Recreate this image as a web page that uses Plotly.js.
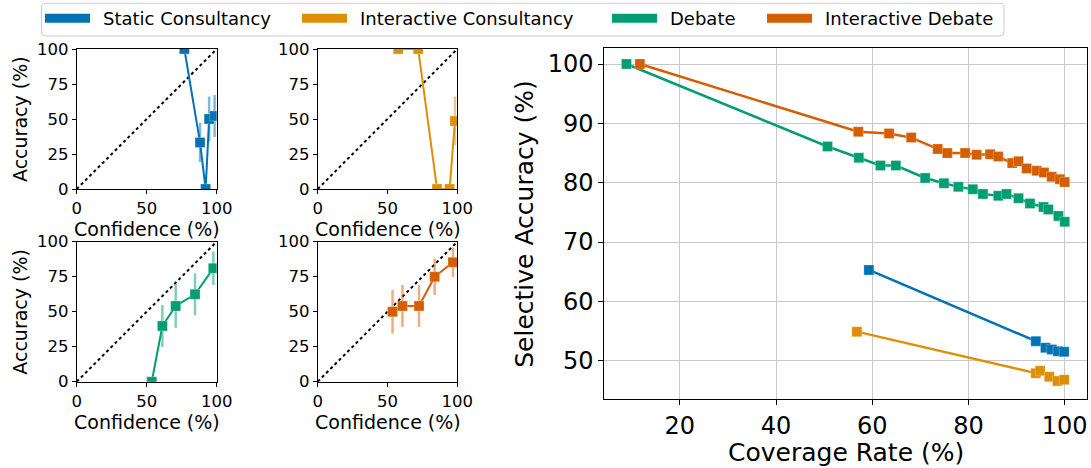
<!DOCTYPE html>
<html>
<head>
<meta charset="utf-8">
<script src="https://cdn.plot.ly/plotly-3.0.1.min.js"></script>
<style>html,body{margin:0;padding:0;background:#fff;}#chart{width:1091px;height:468px;}</style>
</head>
<body>
<div id="chart"></div>
<script>
// ---------- data ----------
const seriesNames = ["Static Consultancy", "Interactive Consultancy", "Debate", "Interactive Debate"];
const seriesColors = ["#0173b2", "#de8f05", "#029e73", "#d55e00"];
const seriesFaded = ["rgba(1,115,178,0.5)", "rgba(222,143,5,0.5)", "rgba(2,158,115,0.5)", "rgba(213,94,0,0.5)"];

// calibration panels: confidence (%), accuracy (%), error half-width
const staticConfidence = [76.9, 88.1, 92.1, 94.6, 98.5];
const staticAccuracy   = [100, 33.3, 0, 50, 52.2];
const staticError      = [0, 14, 0, 16, 15];

const interConsConfidence = [57.7, 72.0, 85.5, 94.5, 98.3];
const interConsAccuracy   = [100, 100, 0, 0, 48.5];
const interConsError      = [0, 0, 0, 0, 17.5];

const debateConfidence = [53.6, 61.2, 70.7, 84.5, 97.6];
const debateAccuracy   = [0, 39.8, 54.1, 62.4, 81.0];
const debateError      = [0, 15, 15.5, 15, 12];

const interDebConfidence = [53.6, 60.7, 72.6, 83.8, 96.9];
const interDebAccuracy   = [50.0, 54.1, 54.1, 75.0, 85.3];
const interDebError      = [15.5, 15, 15, 13, 10.6];

const diagonal = [0, 100];

// selective accuracy vs coverage
const staticCoverage = [59.3, 94.0, 96.0, 97.3, 98.6, 99.9];
const staticSelAcc   = [65.3, 53.3, 52.2, 51.9, 51.6, 51.5];

const interConsCoverage = [56.8, 94.0, 94.9, 96.8, 98.5, 99.9];
const interConsSelAcc   = [54.9, 47.9, 48.3, 47.3, 46.6, 46.8];

const debateCoverage = [8.9, 50.7, 57.2, 61.7, 64.9, 71.0, 74.9, 77.9, 80.9, 83.0, 86.2, 87.9, 90.4, 92.8, 95.6, 96.6, 98.7, 100];
const debateSelAcc   = [100, 86.1, 84.2, 82.9, 82.9, 80.8, 79.9, 79.3, 78.9, 78.1, 77.8, 78.1, 77.4, 76.5, 75.9, 75.5, 74.4, 73.4];

const interDebCoverage = [11.7, 57.1, 63.5, 68.1, 73.6, 75.6, 79.3, 81.7, 84.5, 86.2, 89.1, 90.4, 92.1, 94.2, 95.7, 97.3, 99.0, 100];
const interDebSelAcc   = [100, 88.6, 88.3, 87.6, 85.7, 85.0, 85.0, 84.7, 84.8, 84.4, 83.3, 83.6, 82.4, 82.0, 81.7, 81.0, 80.6, 80.1];

const smallXTicks = [0, 50, 100];
const smallYTicks = [0, 25, 50, 75, 100];
const bigXTicks = [20, 40, 60, 80, 100];
const bigYTicks = [50, 60, 70, 80, 90, 100];

const xTitleSmall = "Confidence (%)";
const yTitleSmall = "Accuracy (%)";
const xTitleBig = "Coverage Rate (%)";
const yTitleBig = "Selective Accuracy (%)";

// ---------- layout helpers ----------
const W = 1091, H = 468;
const FONT = "DejaVu Sans, sans-serif";
const px = v => v / W;
const py = v => 1 - v / H;

const calib = [
  [staticConfidence, staticAccuracy, staticError],
  [interConsConfidence, interConsAccuracy, interConsError],
  [debateConfidence, debateAccuracy, debateError],
  [interDebConfidence, interDebAccuracy, interDebError]
];
const bigData = [
  [staticCoverage, staticSelAcc],
  [interConsCoverage, interConsSelAcc],
  [debateCoverage, debateSelAcc],
  [interDebCoverage, interDebSelAcc]
];

// panel pixel boxes [left, right, top, bottom]
const panels = [
  [76.7, 216.7, 49, 189],
  [317.7, 457.3, 49, 189],
  [76.7, 216.7, 241.7, 381.7],
  [317.7, 457.3, 241.7, 381.7]
];
const bigBox = [604.3, 1087.3, 48.3, 399.3];

const traces = [];
const layout = {
  width: W, height: H,
  margin: {l: 0, r: 0, t: 0, b: 0},
  paper_bgcolor: "#ffffff",
  plot_bgcolor: "#ffffff",
  font: {family: FONT, color: "#000000"},
  showlegend: false,
  shapes: [],
  annotations: []
};

function axisCommon(extra) {
  return Object.assign({
    showline: true, mirror: true, linecolor: "#000000", linewidth: 1,
    ticks: "outside", tickcolor: "#000000", tickwidth: 1,
    zeroline: false, showgrid: false, fixedrange: true,
    tickmode: "array"
  }, extra);
}

calib.forEach((d, i) => {
  const n = i + 1;
  const xa = "xaxis" + n, ya = "yaxis" + n;
  const b = panels[i];
  layout[xa] = axisCommon({
    domain: [px(b[0]), px(b[1])], range: [0, 100], anchor: "y" + n,
    tickvals: smallXTicks, ticklen: 4, tickfont: {size: 16.5, family: FONT}
  });
  layout[ya] = axisCommon({
    domain: [py(b[3]), py(b[2])], range: [0, 100], anchor: "x" + n,
    tickvals: smallYTicks, ticklen: 4, tickfont: {size: 16.5, family: FONT}
  });
  traces.push({
    x: diagonal, y: diagonal, xaxis: "x" + n, yaxis: "y" + n,
    mode: "lines", line: {color: "#000000", width: 2, dash: "dot"},
    hoverinfo: "skip", showlegend: false
  });
  traces.push({
    x: d[0], y: d[1], xaxis: "x" + n, yaxis: "y" + n,
    mode: "lines+markers", name: seriesNames[i],
    line: {color: seriesColors[i], width: 2},
    marker: {symbol: "square", size: 10, color: seriesColors[i], line: {color: "rgba(255,255,255,0.5)", width: 0.5}},
    error_y: {type: "data", array: d[2], visible: true, color: seriesFaded[i], thickness: 2.5, width: 0},
    showlegend: false
  });
  // axis titles
  const cx = (b[0] + b[1]) / 2;
  layout.annotations.push({
    text: xTitleSmall, xref: "paper", yref: "paper",
    x: px(cx), y: py(b[3] + 40), xanchor: "center", yanchor: "middle",
    showarrow: false, font: {size: 19, family: FONT, color: "#000"}
  });
  if (i === 0 || i === 2) {
    layout.annotations.push({
      text: yTitleSmall, xref: "paper", yref: "paper", textangle: -90,
      x: px(20), y: py((b[2] + b[3]) / 2), xanchor: "center", yanchor: "middle",
      showarrow: false, font: {size: 19, family: FONT, color: "#000"}
    });
  }
});

// big panel
layout.xaxis5 = axisCommon({
  domain: [px(bigBox[0]), px(bigBox[1])], range: [4.3, 104.7], anchor: "y5",
  tickvals: bigXTicks, ticklen: 5, tickfont: {size: 24, family: FONT},
  showgrid: true, gridcolor: "#c8c8c8", gridwidth: 1
});
layout.yaxis5 = axisCommon({
  domain: [py(bigBox[3]), py(bigBox[2])], range: [43.5, 102.65], anchor: "x5",
  tickvals: bigYTicks, ticklen: 5, tickfont: {size: 24, family: FONT},
  showgrid: true, gridcolor: "#c8c8c8", gridwidth: 1
});
bigData.forEach((d, i) => {
  traces.push({
    x: d[0], y: d[1], xaxis: "x5", yaxis: "y5",
    mode: "lines+markers", name: seriesNames[i],
    line: {color: seriesColors[i], width: 2.5},
    marker: {symbol: "square", size: 10, color: seriesColors[i], line: {color: "rgba(255,255,255,0.5)", width: 0.5}},
    showlegend: false
  });
});
layout.annotations.push({
  text: xTitleBig, xref: "paper", yref: "paper",
  x: px((bigBox[0] + bigBox[1]) / 2), y: py(452), xanchor: "center", yanchor: "middle",
  showarrow: false, font: {size: 25, family: FONT, color: "#000"}
});
layout.annotations.push({
  text: yTitleBig, xref: "paper", yref: "paper", textangle: -90,
  x: px(525), y: py((bigBox[2] + bigBox[3]) / 2), xanchor: "center", yanchor: "middle",
  showarrow: false, font: {size: 25, family: FONT, color: "#000"}
});

// ---------- legend (drawn as shapes + text) ----------
const legBox = [41.5, 1004, 3.3, 36];
const r = 4;
const L = px(legBox[0]), R = px(legBox[1]), T = py(legBox[2]), B = py(legBox[3]);
const rx = r / W, ry = r / H;
const boxPath = `M ${L + rx},${T} L ${R - rx},${T} Q ${R},${T} ${R},${T - ry} L ${R},${B + ry} Q ${R},${B} ${R - rx},${B} L ${L + rx},${B} Q ${L},${B} ${L},${B + ry} L ${L},${T - ry} Q ${L},${T} ${L + rx},${T} Z`;
layout.shapes.push({
  type: "path", xref: "paper", yref: "paper", path: boxPath,
  line: {color: "#cccccc", width: 1}, fillcolor: "rgba(255,255,255,0.8)"
});
const legendTextX = [101, 358, 668, 823];
const legendY = 18.3;
seriesNames.forEach((nm, i) => {
  const tx = legendTextX[i];
  layout.shapes.push({
    type: "rect", xref: "paper", yref: "paper",
    x0: px(tx - 56), x1: px(tx - 11), y0: py(legendY + 4.5), y1: py(legendY - 4.5),
    line: {width: 0}, fillcolor: seriesColors[i]
  });
  layout.annotations.push({
    text: nm, xref: "paper", yref: "paper", x: px(tx), y: py(legendY),
    xanchor: "left", yanchor: "middle", showarrow: false,
    font: {size: 18, family: FONT, color: "#000"}
  });
});

Plotly.newPlot("chart", traces, layout, {staticPlot: true, displayModeBar: false});
</script>
</body>
</html>
